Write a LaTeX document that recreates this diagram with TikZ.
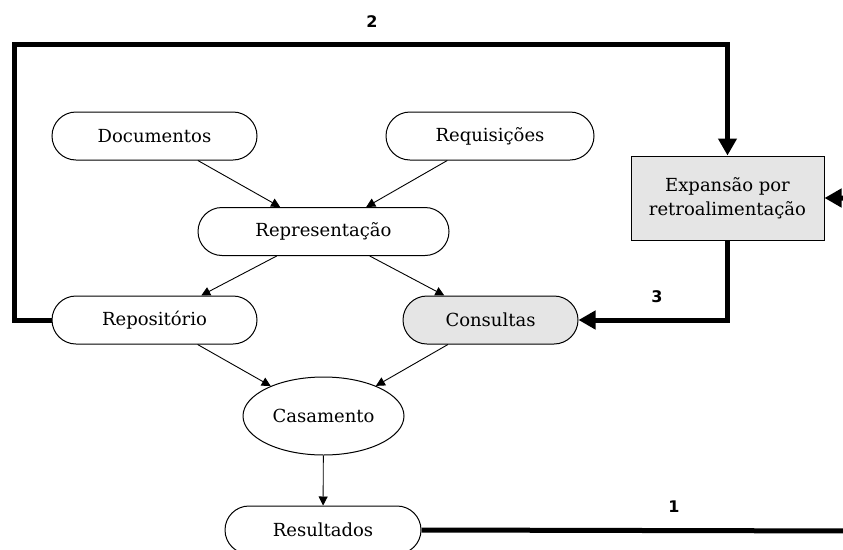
\documentclass[tikz,border=0pt]{standalone}
\usepackage{fontspec}
\setmainfont{DejaVu Serif}
\newfontfamily\labelfont{DejaVu Sans}
\usetikzlibrary{arrows.meta,shapes.geometric}
\begin{document}
\begin{tikzpicture}[x=1pt,y=-1pt,
  pill/.style={draw,line width=1pt,rounded corners=24pt,minimum height=48pt,
    inner sep=0pt,font=\fontsize{18}{22}\selectfont},
  oval/.style={draw,line width=1pt,ellipse,inner sep=0pt,font=\fontsize{18}{22}\selectfont},
  boxnode/.style={draw,line width=1pt,fill=black!10,inner sep=0pt,align=center,
    font=\fontsize{18}{24}\selectfont},
  thin/.style={line width=0.9pt,-{Triangle[length=9pt,width=9pt]}},
  thick/.style={line width=5pt,-{Triangle[length=17pt,width=18pt]}},
  num/.style={font=\labelfont\bfseries\fontsize{16}{18}\selectfont}]
\clip (0,0) rectangle (843,549);
\fill[white] (0,0) rectangle (843,549);

% nodes
\node[pill,minimum width=205pt] (doc) at (154.5,136) {Documentos};
\node[pill,minimum width=208pt] (req) at (490,136) {Requisições};
\node[pill,minimum width=251pt] (rep) at (323.5,231.5) {Representação};
\node[pill,minimum width=205pt] (repo) at (154.5,320) {Repositório};
\node[pill,minimum width=175pt,fill=black!10] (cons) at (490.5,320) {Consultas};
\node[oval,minimum width=161pt,minimum height=78pt] (cas) at (323.5,416) {Casamento};
\node[pill,minimum width=196pt] (res) at (323,530) {Resultados};
\node[boxnode,minimum width=193pt,minimum height=84pt] (exp) at (727.5,198)
  {Expansão por\\retroalimentação};

% thin connectors
\draw[thin] (doc) -- (rep);
\draw[thin] (req) -- (rep);
\draw[thin] (rep) -- (repo);
\draw[thin] (rep) -- (cons);
\draw[thin] (repo) -- (cas);
\draw[thin] (cons) -- (cas);
\draw[thin] (cas) -- (res);

% feedback paths
\coordinate (c2a) at (14,320);
\coordinate (c2b) at (14,44);
\coordinate (c2c) at (727.5,44);
\draw[thick,line join=miter] (repo.west) -- (c2a) -- (c2b) -- (c2c) -- (exp.north);
\node[num] (n2) at (372,22) {2};

\coordinate (c3) at (727.5,320);
\draw[thick,line join=miter] (exp.south) -- (c3) -- (cons.east);
\node[num] (n3) at (657,297) {3};

\coordinate (c1a) at (870,531);
\coordinate (c1b) at (870,198);
\draw[thick,line join=miter] (res.east) -- (c1a) -- (c1b) -- (exp.east);
\node[num] (n1) at (674,507) {1};
\end{tikzpicture}
\end{document}
